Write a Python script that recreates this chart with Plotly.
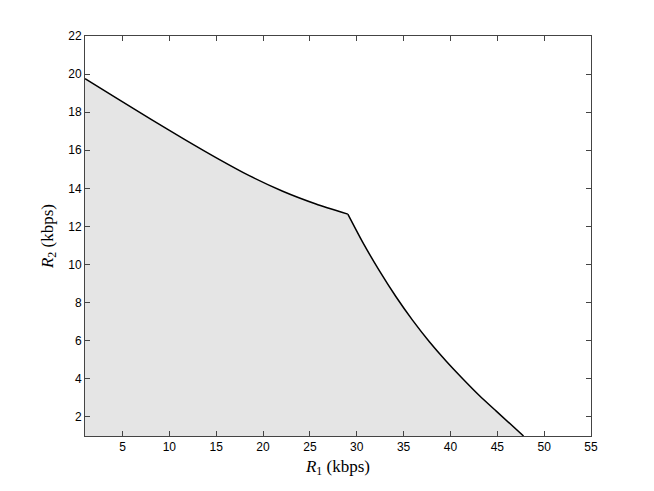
import plotly.graph_objects as go

# Rate region boundary (R1, R2) in kbps
# upper segment (up to the corner point)
r1_upper = [1.0, 4.45, 8.01, 11.57, 15.12, 18.53, 22.10, 25.65, 29.05]
r2_upper = [19.76, 18.71, 17.64, 16.59, 15.58, 14.67, 13.85, 13.18, 12.65]
# lower segment (from the corner point down to the R1 axis)
r1_lower = [29.05, 30.63, 32.41, 34.19, 35.97, 37.75, 39.53, 41.31, 43.08, 44.86, 47.8]
r2_lower = [12.65, 11.18, 9.68, 8.31, 7.07, 5.95, 4.94, 4.01, 3.13, 2.32, 1.0]

x_ticks = [5, 10, 15, 20, 25, 30, 35, 40, 45, 50, 55]
y_ticks = [2, 4, 6, 8, 10, 12, 14, 16, 18, 20, 22]

fig = go.Figure()
# shaded achievable region (single polygon, no outline)
fig.add_trace(go.Scatter(
    x=r1_upper + r1_lower[1:], y=r2_upper + r2_lower[1:], mode="lines",
    line=dict(width=0, color="rgba(0,0,0,0)"),
    fill="tozeroy", fillcolor="#e5e5e5",
    showlegend=False, hoverinfo="skip",
))
# boundary curves
for xs, ys in [(r1_upper, r2_upper), (r1_lower, r2_lower)]:
    fig.add_trace(go.Scatter(
        x=xs, y=ys, mode="lines",
        line=dict(color="black", width=1.5, shape="spline", smoothing=0.6),
        showlegend=False, hoverinfo="skip",
    ))

axis_common = dict(
    showgrid=False, zeroline=False, showline=True, linecolor="#444", linewidth=1,
    mirror="allticks", ticks="inside", ticklen=5, tickcolor="#444", tickwidth=1,
    tickfont=dict(family="Liberation Sans, Arial, sans-serif", size=12, color="black"),
)

fig.update_xaxes(range=[1, 55], tickvals=x_ticks,
                 title=dict(text="<i>R</i><sub>1</sub> (kbps)", standoff=6,
                            font=dict(family="Liberation Serif, Times New Roman, serif", size=17, color="black")),
                 **axis_common)
fig.update_yaxes(range=[1, 22], tickvals=y_ticks,
                 title=dict(text="<i>R</i><sub>2</sub> (kbps)", standoff=10,
                            font=dict(family="Liberation Serif, Times New Roman, serif", size=17, color="black")),
                 **axis_common)

fig.update_layout(
    width=654, height=491,
    margin=dict(l=77, r=71, t=28, b=63),
    plot_bgcolor="white", paper_bgcolor="white",
)

fig.write_html("out.html")
